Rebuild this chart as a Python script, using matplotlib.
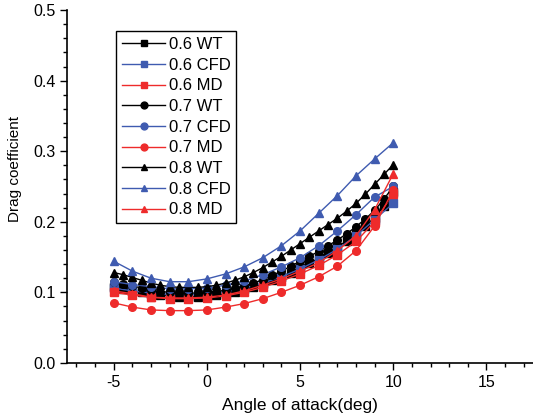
import matplotlib.pyplot as plt
import numpy as np
from matplotlib.ticker import MultipleLocator

plt.rcParams['font.family'] = ['Liberation Sans', 'DejaVu Sans']
plt.rcParams['axes.unicode_minus'] = False

# --- data ---
# CFD / MD computed at 1 deg steps
aoa = list(range(-5, 11))
cfd_06 = [0.106, 0.102, 0.099, 0.097, 0.097, 0.098, 0.101, 0.106, 0.113, 0.122, 0.133, 0.146, 0.161, 0.180, 0.203, 0.226]
cfd_07 = [0.115, 0.111, 0.108, 0.105, 0.105, 0.106, 0.110, 0.116, 0.125, 0.136, 0.149, 0.166, 0.187, 0.210, 0.235, 0.250]
cfd_08 = [0.144, 0.130, 0.120, 0.115, 0.115, 0.119, 0.126, 0.136, 0.149, 0.166, 0.187, 0.212, 0.237, 0.265, 0.289, 0.312]
md_06 = [0.100, 0.096, 0.093, 0.091, 0.091, 0.092, 0.095, 0.100, 0.107, 0.116, 0.126, 0.138, 0.153, 0.172, 0.200, 0.240]
md_07 = [0.085, 0.079, 0.075, 0.074, 0.074, 0.075, 0.079, 0.084, 0.091, 0.100, 0.110, 0.122, 0.137, 0.159, 0.194, 0.245]
md_08 = [0.102, 0.098, 0.093, 0.092, 0.092, 0.093, 0.096, 0.102, 0.110, 0.119, 0.130, 0.142, 0.159, 0.180, 0.217, 0.268]

# wind tunnel, 0.5 deg steps
aoa_wt = [-5, -4.5, -4, -3.5, -3, -2.5, -2, -1.5, -1, -0.5, 0, 0.5, 1, 1.5, 2, 2.5,
          3, 3.5, 4, 4.5, 5, 5.5, 6, 6.5, 7, 7.5, 8, 8.5, 9, 9.5, 10]
wt_06 = [0.108, 0.105, 0.102, 0.100, 0.098, 0.096, 0.095, 0.094, 0.094, 0.094, 0.095, 0.096,
         0.098, 0.101, 0.104, 0.108, 0.112, 0.117, 0.122, 0.128, 0.134, 0.141, 0.148, 0.156,
         0.164, 0.173, 0.183, 0.194, 0.206, 0.222, 0.242]
wt_07 = [0.115, 0.112, 0.109, 0.106, 0.103, 0.101, 0.100, 0.099, 0.099, 0.099, 0.100, 0.101,
         0.103, 0.106, 0.109, 0.113, 0.118, 0.124, 0.130, 0.137, 0.144, 0.151, 0.158, 0.166,
         0.174, 0.183, 0.193, 0.204, 0.216, 0.232, 0.250]
wt_08 = [0.128, 0.125, 0.121, 0.117, 0.113, 0.110, 0.108, 0.107, 0.107, 0.107, 0.108, 0.110,
         0.113, 0.117, 0.122, 0.128, 0.135, 0.143, 0.151, 0.160, 0.169, 0.178, 0.187, 0.196,
         0.205, 0.215, 0.226, 0.239, 0.253, 0.267, 0.281]

black = 'black'
blue = '#3F5BB0'
red = '#EE2B2B'

fig = plt.figure(figsize=(5.33, 4.19), dpi=100)
ax = fig.add_axes([0.126, 0.134, 0.874, 0.842])

series = [
    (aoa_wt, wt_06, black, 's', '0.6 WT'),
    (aoa, cfd_06, blue, 's', '0.6 CFD'),
    (aoa, md_06, red, 's', '0.6 MD'),
    (aoa_wt, wt_07, black, 'o', '0.7 WT'),
    (aoa, cfd_07, blue, 'o', '0.7 CFD'),
    (aoa, md_07, red, 'o', '0.7 MD'),
    (aoa_wt, wt_08, black, '^', '0.8 WT'),
    (aoa, cfd_08, blue, '^', '0.8 CFD'),
    (aoa, md_08, red, '^', '0.8 MD'),
]
for x, y, c, m, lab in series:
    ax.plot(x, y, color=c, marker=m, markersize=5.5, linewidth=1.0, label=lab)

ax.set_xlim(-7.5, 17.5)
ax.set_ylim(0, 0.5)
ax.xaxis.set_minor_locator(MultipleLocator(1))
ax.yaxis.set_major_locator(MultipleLocator(0.1))
ax.yaxis.set_minor_locator(MultipleLocator(0.02))
ax.set_xticks([-5, 0, 5, 10, 15])
ax.yaxis.set_major_formatter(plt.FormatStrFormatter('%.1f'))
ax.tick_params(which='major', direction='out', length=5, width=1, labelsize=11.5)
ax.tick_params(which='minor', direction='out', length=3, width=1)

ax.spines['top'].set_visible(False)
ax.spines['right'].set_visible(False)
ax.spines['left'].set_linewidth(1.2)
ax.spines['bottom'].set_linewidth(1.2)

ax.set_xlabel('Angle of attack(deg)', fontsize=12.5, labelpad=6)
ax.set_ylabel('Drag coefficient', fontsize=11, labelpad=6)
ax.yaxis.set_label_coords(-0.098, 0.55)

leg = ax.legend(loc='upper left', bbox_to_anchor=(0.105, 0.94), borderaxespad=0,
                fontsize=12, labelspacing=0.34, handlelength=2.6, handletextpad=0.2,
                fancybox=False, framealpha=1, edgecolor='black', borderpad=0.35,
                markerscale=0.9)
leg.get_frame().set_linewidth(1.0)

plt.savefig('out.png', dpi=100)
